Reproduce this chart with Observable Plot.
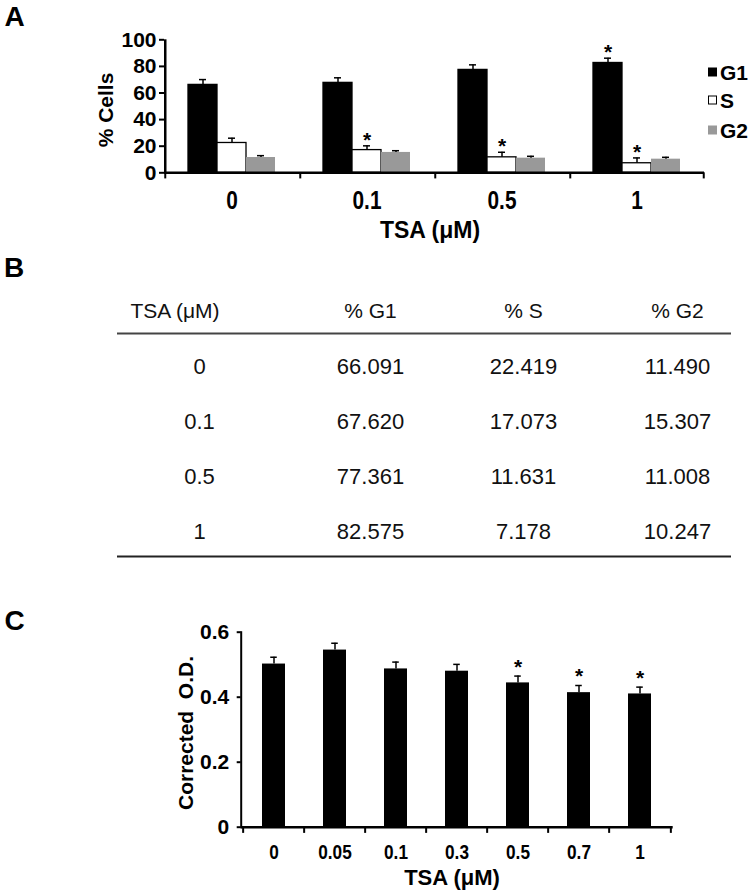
<!DOCTYPE html>
<html><head><meta charset="utf-8">
<script src="https://cdn.jsdelivr.net/npm/d3@7"></script>
<script src="https://cdn.jsdelivr.net/npm/@observablehq/plot@0.6"></script>
<style>
body{margin:0;background:#fff;}
#fig{position:relative;width:750px;height:892px;font-family:"Liberation Sans",Arial,sans-serif;color:#000;overflow:hidden;background:#fff}
.panel{position:absolute;left:0}
.lab{position:absolute;white-space:pre;line-height:1;transform:translate(-50%,-50%)}
.rot{transform:translate(-50%,-50%) rotate(-90deg)}
.leg{position:absolute;display:flex;align-items:center;gap:3px;font-weight:bold;font-size:21px;line-height:1;transform:translateY(-50%)}
.sw{width:9px;height:9px;box-sizing:border-box}
</style></head><body>
<div id="fig"></div>
<script>
// ---------- data ----------
const tsaA = ["0", "0.1", "0.5", "1"];
const phases = ["G1", "S", "G2"];
const g1 = [66.091, 67.620, 77.361, 82.575];
const sPhase = [22.419, 17.073, 11.631, 7.178];
const g2 = [11.490, 15.307, 11.008, 10.247];
const g1Err = [4.0, 3.8, 3.8, 3.6];
const sErr = [3.6, 3.2, 3.8, 4.0];
const g2Err = [1.4, 1.3, 1.4, 1.4];
const g1Sig = [false, false, false, true];
const sSig = [false, true, true, true];
const g2Sig = [false, false, false, false];
const yTicksA = [0, 20, 40, 60, 80, 100];

const tableHeader = ["TSA (\u03bcM)", "% G1", "% S", "% G2"];

const tsaC = ["0", "0.05", "0.1", "0.3", "0.5", "0.7", "1"];
const od = [0.502, 0.545, 0.487, 0.480, 0.444, 0.414, 0.410];
const odErr = [0.021, 0.021, 0.021, 0.021, 0.021, 0.022, 0.021];
const odSig = [false, false, false, false, true, true, true];
const yTicksC = [0, 0.2, 0.4, 0.6];

// ---------- helpers ----------
const FONT = '"Liberation Sans", Arial, sans-serif';
const fig = document.getElementById("fig");
function label(text, x, y, size, bold = true, rotate = false) {
  const d = document.createElement("div");
  d.className = "lab" + (rotate ? " rot" : "");
  d.textContent = text;
  d.style.left = x + "px"; d.style.top = y + "px";
  d.style.fontSize = size + "px"; d.style.fontWeight = bold ? "bold" : "normal";
  fig.appendChild(d);
}
function place(svg, top) {
  const wrap = document.createElement("div");
  wrap.className = "panel"; wrap.style.top = top + "px";
  wrap.appendChild(svg); fig.appendChild(wrap);
}
// condensed look for tick labels: larger size, horizontally squeezed
function squeeze(svg, aria, size, sx) {
  svg.querySelectorAll(`g[aria-label="${aria}"] text`).forEach(t => {
    const tr = t.getAttribute("transform");
    if (!tr) return;
    t.setAttribute("transform", tr + ` scale(${sx},1)`);
    t.style.fontSize = size + "px";
  });
}

// ---------- Panel A ----------
const seriesA = {
  G1: {v: g1, e: g1Err, s: g1Sig},
  S: {v: sPhase, e: sErr, s: sSig},
  G2: {v: g2, e: g2Err, s: g2Sig}
};
const rowsA = tsaA.flatMap((t, i) => phases.map(p => ({
  tsa: t, phase: p, value: seriesA[p].v[i], err: seriesA[p].e[i], sig: seriesA[p].s[i]
})));
const A_left = 163, A_right = 705;
const A_band = (A_right - A_left) / tsaA.length;
const A_po = 0.758;
const A_step = A_band / (phases.length + 2 * A_po);
const A_edge = A_po * A_step + A_step / 2;

const plotA = Plot.plot({
  width: 750, height: 250,
  marginLeft: A_left, marginRight: 750 - A_right, marginTop: 39.3, marginBottom: 77.7,
  style: {fontFamily: FONT, background: "transparent", color: "#000", overflow: "visible"},
  fx: {domain: tsaA, padding: 0, axis: null, label: null},
  x: {domain: phases, paddingInner: 0, paddingOuter: A_po, axis: null},
  y: {domain: [0, 100], axis: null},
  color: {domain: phases, range: ["#000000", "#ffffff", "#999999"]},
  marks: [
    Plot.barY(rowsA.filter(d => d.phase !== "G2"), {fx: "tsa", x: "phase", y: "value", fill: "phase", stroke: "#000", strokeWidth: 1.3}),
    Plot.barY(rowsA.filter(d => d.phase === "G2"), {fx: "tsa", x: "phase", y: "value", fill: "phase"}),
    Plot.ruleX(rowsA, {fx: "tsa", x: "phase", y1: "value", y2: d => d.value + d.err, stroke: "#000", strokeWidth: 1.5}),
    Plot.tickY(rowsA, {fx: "tsa", x: "phase", y: d => d.value + d.err, insetLeft: 11, insetRight: 11, stroke: "#000", strokeWidth: 1.5}),
    Plot.text(rowsA.filter(d => d.sig), {fx: "tsa", x: "phase", y: d => d.value + d.err, text: () => "*", dy: -6, fontSize: 21, fontWeight: "bold", fill: "#000"}),
    Plot.ruleY([0], {stroke: "#000", strokeWidth: 2.5}),
    Plot.ruleX(["0"], {fx: d => d, x: () => "G1", dx: -A_edge, y1: 0, y2: 100, stroke: "#000", strokeWidth: 2.5}),
    Plot.ruleX(tsaA, {fx: d => d, x: () => "G1", dx: -A_edge, y1: 0, y2: -4.6, stroke: "#000", strokeWidth: 2}),
    Plot.ruleX([tsaA[tsaA.length - 1]], {fx: d => d, x: () => "G2", dx: A_edge, y1: 0, y2: -4.6, stroke: "#000", strokeWidth: 2}),
    Plot.axisY({ticks: yTicksA, tickSize: 5, tickPadding: 3, fontSize: 21, fontWeight: "bold", label: null, stroke: "#000", strokeWidth: 2}),
    Plot.axisFx({anchor: "bottom", tickSize: 0, tickPadding: 17.7, fontSize: 22, fontWeight: "bold", label: null})
  ]
});
squeeze(plotA, "fx-axis tick label", 26, 0.8);
place(plotA, 0);
label("A", 14.5, 17, 28);
label("% Cells", 105, 110, 21, true, true);
label("TSA (\u03bcM)", 430, 230, 23);
const legY = [71.7, 100, 130];
phases.forEach((p, i) => {
  const d = document.createElement("div");
  d.className = "leg";
  d.style.left = "708px"; d.style.top = legY[i] + "px";
  const sw = document.createElement("div");
  sw.className = "sw";
  sw.style.background = ["#000", "#fff", "#999"][i];
  if (p === "S") sw.style.border = "1.3px solid #000";
  const t = document.createElement("span"); t.textContent = p;
  d.appendChild(sw); d.appendChild(t); fig.appendChild(d);
});

// ---------- Panel B (table) ----------
const fmt = d3.format(".3f");
const colVals = [tsaA, g1.map(fmt), sPhase.map(fmt), g2.map(fmt)];
const cellsB = tsaA.flatMap((t, i) => colVals.map((c, j) => ({row: t, col: j, text: c[i]})));
const headB = tableHeader.map((h, j) => ({row: "header", col: j, text: h}));
const plotB = Plot.plot({
  width: 750, height: 330,
  marginLeft: 117, marginRight: 19, marginTop: 0, marginBottom: 0,
  style: {fontFamily: FONT, background: "transparent", color: "#000", overflow: "visible"},
  x: {type: "linear", domain: [0, 1, 2, 3], range: [199, 370, 523, 677], axis: null},
  y: {type: "point", domain: ["header", ...tsaA], range: [60, 281.5], padding: 0, axis: null},
  marks: [
    Plot.text(headB.filter(d => d.col === 0), {x: "col", y: "row", text: "text", textAnchor: "start", dx: -69, fontSize: 21, fill: "#111"}),
    Plot.text(headB.filter(d => d.col > 0), {x: "col", y: "row", text: "text", fontSize: 21, fill: "#111"}),
    Plot.text(cellsB, {x: "col", y: "row", text: "text", fontSize: 22, fill: "#111"}),
    Plot.ruleY(["header"], {dy: 22, stroke: "#444", strokeWidth: 2}),
    Plot.ruleY([tsaA[tsaA.length - 1]], {dy: 25, stroke: "#222", strokeWidth: 2})
  ]
});
place(plotB, 250);
label("B", 14, 267.5, 28);

// ---------- Panel C ----------
const rowsC = tsaC.map((t, i) => ({tsa: t, value: od[i], err: odErr[i], sig: odSig[i]}));
const C_left = 240.7, C_right = 672.7;
const C_step = (C_right - C_left) / tsaC.length;
const C_bw = C_step * 0.38;
const plotC = Plot.plot({
  width: 750, height: 312,
  marginLeft: C_left, marginRight: 750 - C_right, marginTop: 51.7, marginBottom: 65.3,
  style: {fontFamily: FONT, background: "transparent", color: "#000", overflow: "visible"},
  x: {domain: tsaC, paddingInner: 0.62, paddingOuter: 0.31, axis: null},
  y: {domain: [0, 0.6], axis: null},
  marks: [
    Plot.barY(rowsC, {x: "tsa", y: "value", fill: "#000"}),
    Plot.ruleX(rowsC, {x: "tsa", y1: "value", y2: d => d.value + d.err, stroke: "#000", strokeWidth: 1.5}),
    Plot.tickY(rowsC, {x: "tsa", y: d => d.value + d.err, insetLeft: (C_bw - 7) / 2, insetRight: (C_bw - 7) / 2, stroke: "#000", strokeWidth: 1.5}),
    Plot.text(rowsC.filter(d => d.sig), {x: "tsa", y: d => d.value + d.err, text: () => "*", dy: -9, fontSize: 21, fontWeight: "bold", fill: "#000"}),
    Plot.ruleY([0], {stroke: "#000", strokeWidth: 2.5}),
    Plot.frame({anchor: "left", stroke: "#000", strokeWidth: 2}),
    Plot.ruleX(tsaC, {x: d => d, dx: -C_step / 2, y1: 0, y2: -0.019, stroke: "#000", strokeWidth: 2}),
    Plot.ruleX([tsaC[tsaC.length - 1]], {x: d => d, dx: C_step / 2, y1: 0, y2: -0.019, stroke: "#000", strokeWidth: 2}),
    Plot.axisY({ticks: yTicksC, tickFormat: d => d === 0 ? "0" : String(d), tickSize: 4, tickPadding: 8, fontSize: 21, fontWeight: "bold", label: null, stroke: "#000", strokeWidth: 2}),
    Plot.axisX({tickSize: 0, tickPadding: 16.5, fontSize: 19, fontWeight: "bold", label: null})
  ]
});
squeeze(plotC, "x-axis tick label", 21, 0.82);
place(plotC, 580);
label("C", 14.5, 621, 28);
label("Corrected  O.D.", 185, 733, 21, true, true);
label("TSA (\u03bcM)", 452, 877.5, 22);
</script>
</body></html>
